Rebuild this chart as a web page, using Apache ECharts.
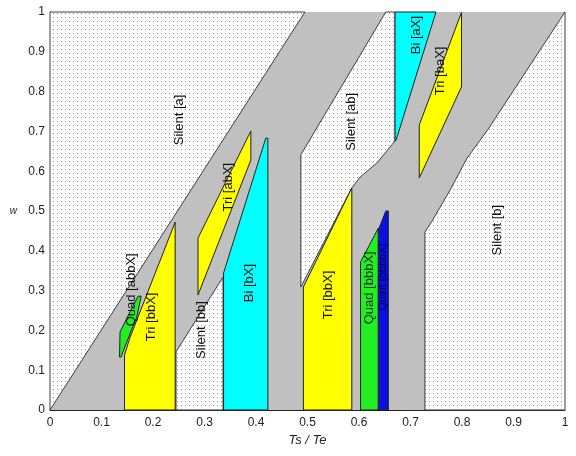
<!DOCTYPE html>
<html><head><meta charset="utf-8">
<script src="https://cdn.jsdelivr.net/npm/echarts@6/dist/echarts.min.js"></script>
<style>html,body{margin:0;padding:0;background:#fff}#c{width:576px;height:456px}</style>
</head><body><div id="c"></div>
<script>
// ---- data (axis units: x = Ts/Te, y = w) ----
const xTickValues = [0,0.1,0.2,0.3,0.4,0.5,0.6,0.7,0.8,0.9,1];
const xTickLabels = ['0','0.1','0.2','0.3','0.4','0.5','0.6','0.7','0.8','0.9','1'];
const yTickValues = [0,0.1,0.2,0.3,0.4,0.5,0.6,0.7,0.8,0.9,1];
const yTickLabels = ['0','0.1','0.2','0.3','0.4','0.5','0.6','0.7','0.8','0.9','1'];

// region vertices
const silentA   = [[0,0],[0.495,1],[0,1]];
const silentBB  = [[0.2447,0],[0.2447,0.146],[0.336,0.334],[0.336,0]];
const silentAB  = [[0.652,1],[0.670,1],[0.670,0.676],[0.635,0.621],[0.602,0.585],[0.586,0.558],[0.487,0.309],[0.487,0.641]];
const silentB   = [[1,1],[1,0],[0.728,0],[0.728,0.447],[0.742,0.475],[0.777,0.553],[0.810,0.633],[0.850,0.704]];
const triBBX1   = [[0.1447,0],[0.1447,0.138],[0.155,0.181],[0.243,0.472],[0.243,0]];
const quadABBX  = [[0.135,0.133],[0.136,0.196],[0.157,0.251],[0.171,0.286],[0.177,0.286],[0.169,0.236],[0.146,0.161],[0.138,0.133]];
const triABX    = [[0.2874,0.289],[0.2874,0.432],[0.390,0.701],[0.390,0.628]];
const biBX      = [[0.337,0],[0.337,0.344],[0.419,0.683],[0.423,0.683],[0.423,0]];
const triBBX2   = [[0.492,0],[0.492,0.309],[0.586,0.558],[0.586,0]];
const quadBBBX  = [[0.603,0],[0.603,0.372],[0.6375,0.457],[0.6375,0]];
const quintBBBBX= [[0.6375,0],[0.6375,0.452],[0.652,0.5],[0.657,0.5],[0.657,0]];
const biAX      = [[0.670,1],[0.7495,1],[0.672,0.678],[0.670,0.676]];
const triBAX    = [[0.717,0.583],[0.717,0.716],[0.799,0.999],[0.799,0.812]];

const regionShapes = [silentA, silentBB, silentAB, silentB, triBBX1, quadABBX, triABX, biBX, triBBX2, quadBBBX, quintBBBBX, biAX, triBAX];
const regionKinds  = ['silent','silent','silent','silent','tri','quad','tri','bi','tri','quad','quint','bi','tri'];

// labels
const labelNames = ['Silent [a]','Silent [ab]','Silent [b]','Silent [bb]','Tri [bbX]','Quad [abbX]','Tri [abX]','Bi [bX]','Tri [bbX]','Quad [bbbX]','Quint [bbbbX]','Bi [aX]','Tri [baX]'];
const labelX = [0.252,0.586,0.868,0.2945,0.1975,0.159,0.3456,0.388,0.540,0.621,0.6466,0.711,0.759];
const labelY = [0.729,0.724,0.452,0.201,0.234,0.302,0.560,0.319,0.289,0.307,0.334,0.942,0.852];

// ---- styles ----
function dotPattern(){
  const c = document.createElement('canvas'); c.width = 4; c.height = 4;
  const g = c.getContext('2d');
  g.fillStyle = '#ffffff'; g.fillRect(0,0,4,4);
  g.fillStyle = '#9a9a9a'; g.fillRect(1,1,1,1);
  return c;
}
const dots = {image: dotPattern(), repeat: 'repeat'};
const kindFill = {silent: dots, tri: '#ffff00', quad: '#22ee22', bi: '#00ffff', quint: '#0a10e0'};
const kindStroke = {silent: '#3c3c4c', tri: '#202020', quad: '#202020', bi: '#202020', quint: '#202020'};
const labelColors = labelNames.map((n,i)=> i===10 ? '#000050' : (i===9 ? '#103010' : '#111111'));

const chart = echarts.init(document.getElementById('c'), null, {renderer:'canvas'});
function fmt(vals, labs){ return v => { const i = vals.findIndex(t => Math.abs(t - v) < 1e-6); return i >= 0 ? labs[i] : ''; }; }

chart.setOption({
  animation: false,
  backgroundColor: '#ffffff',
  grid: {left: 50, right: 11, top: 12, bottom: 46, show: true, backgroundColor: '#c0c0c0', borderWidth: 0},
  xAxis: {
    type: 'value', min: 0, max: 1, interval: 0.1,
    name: 'Ts / Te', nameLocation: 'middle', nameGap: 20,
    nameTextStyle: {fontFamily: 'Liberation Sans', fontStyle: 'italic', fontSize: 13, color: '#222'},
    axisLine: {show: true, onZero: false, lineStyle: {color: '#222', width: 1}},
    axisTick: {show: false},
    splitLine: {show: false},
    axisLabel: {formatter: fmt(xTickValues, xTickLabels), fontFamily: 'Liberation Sans', fontSize: 12, color: '#222', margin: 7}
  },
  yAxis: {
    type: 'value', min: 0, max: 1, interval: 0.1,
    name: 'w', nameLocation: 'middle', nameGap: 33, nameRotate: 0,
    nameTextStyle: {fontFamily: 'Liberation Sans', fontStyle: 'italic', fontSize: 10, color: '#222', padding: [0,0,6,0]},
    axisLine: {show: true, onZero: false, lineStyle: {color: '#222', width: 1}},
    axisTick: {show: false},
    splitLine: {show: false},
    axisLabel: {formatter: fmt(yTickValues, yTickLabels), fontFamily: 'Liberation Sans', fontSize: 12, color: '#222', margin: 5}
  },
  series: [
    {
      type: 'custom', z: 3,
      data: regionShapes.map(s => s[0]),
      renderItem: function(params, api){
        const i = params.dataIndex;
        const pts = regionShapes[i].map(p => api.coord(p));
        const k = regionKinds[i];
        return {type: 'polygon', shape: {points: pts}, style: {fill: kindFill[k], stroke: kindStroke[k], lineWidth: 1}};
      }
    },
    {
      type: 'custom', z: 4,
      data: labelX.map((x,i) => [x, labelY[i]]),
      renderItem: function(params, api){
        const i = params.dataIndex;
        const p = api.coord([labelX[i], labelY[i]]);
        return {type: 'text', x: p[0], y: p[1], rotation: Math.PI/2,
          style: {text: labelNames[i], fill: labelColors[i], font: (i===10 ? '11px' : '13px') + ' "Liberation Sans", Arial, sans-serif', align: 'center', verticalAlign: 'middle'}};
      }
    }
  ]
});
</script>
</body></html>
